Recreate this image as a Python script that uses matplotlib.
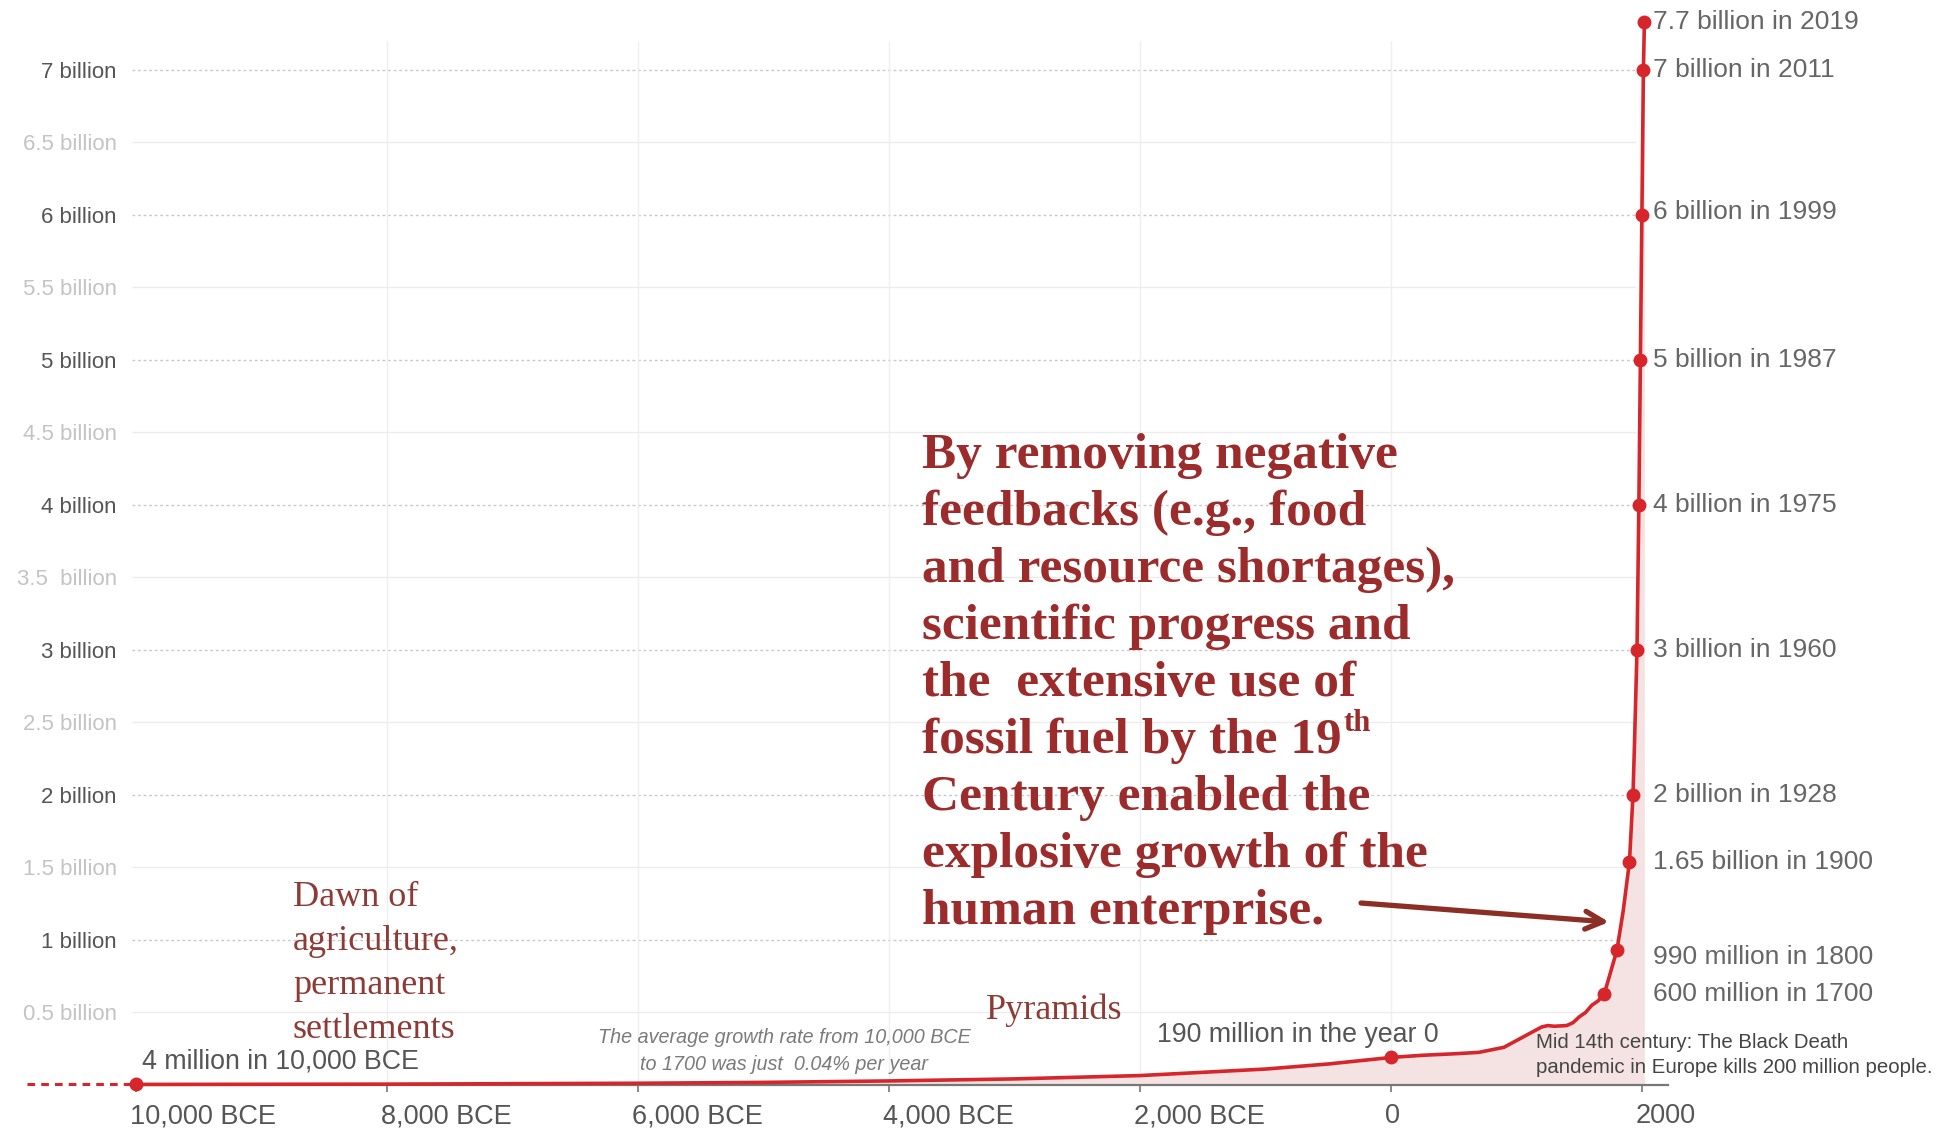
import matplotlib
matplotlib.use("Agg")
import matplotlib.pyplot as plt
from matplotlib import font_manager
from matplotlib.transforms import ScaledTranslation

# ---------------- data ----------------
years = [-10000, -8000, -6000, -5000, -4000, -3000, -2000, -1000, -500, 0, 250, 500, 700,
         900, 1050, 1200, 1250, 1300, 1400, 1450, 1500, 1550, 1600, 1650, 1700, 1750,
         1800, 1850, 1900, 1928, 1940, 1960, 1975, 1987, 1999, 2011, 2019]
population_bn = [0.004, 0.006, 0.012, 0.018, 0.028, 0.042, 0.065, 0.11, 0.145, 0.19, 0.205,
                 0.215, 0.225, 0.26, 0.33, 0.40, 0.41, 0.405, 0.41, 0.43, 0.47, 0.50, 0.55,
                 0.58, 0.63, 0.78, 0.93, 1.2, 1.54, 2.0, 2.35, 3.0, 4.0, 5.0, 6.0, 7.0, 7.33]

milestone_years = [2019, 2011, 1999, 1987, 1975, 1960, 1928, 1900, 1800, 1700]
milestone_pop = [7.33, 7.0, 6.0, 5.0, 4.0, 3.0, 2.0, 1.54, 0.93, 0.63]
milestone_labels = ["7.7 billion in 2019", "7 billion in 2011", "6 billion in 1999",
                    "5 billion in 1987", "4 billion in 1975", "3 billion in 1960",
                    "2 billion in 1928", "1.65 billion in 1900", "990 million in 1800",
                    "600 million in 1700"]

extra_dot_years = [-10000, 0]
extra_dot_pop = [0.004, 0.19]

x_ticks = [-10000, -8000, -6000, -4000, -2000, 0, 2000]
x_tick_labels = ["10,000 BCE", "8,000 BCE", "6,000 BCE", "4,000 BCE", "2,000 BCE", "0", "2000"]
y_ticks = [0.5, 1, 1.5, 2, 2.5, 3, 3.5, 4, 4.5, 5, 5.5, 6, 6.5, 7]
y_tick_labels = ["0.5 billion", "1 billion", "1.5 billion", "2 billion", "2.5 billion",
                 "3 billion", "3.5  billion", "4 billion", "4.5 billion", "5 billion",
                 "5.5 billion", "6 billion", "6.5 billion", "7 billion"]

main_text = ["By removing negative", "feedbacks (e.g., food", "and resource shortages),",
             "scientific progress and", "the  extensive use of", "fossil fuel by the 19",
             "Century enabled the", "explosive growth of the", "human enterprise."]
dawn_text = ["Dawn of", "agriculture,", "permanent", "settlements"]

# ---------------- style ----------------
names = {f.name for f in font_manager.fontManager.ttflist}
SANS = "Liberation Sans" if "Liberation Sans" in names else "DejaVu Sans"
NARROW = "Liberation Sans Narrow" if "Liberation Sans Narrow" in names else SANS
SERIF = "Liberation Serif" if "Liberation Serif" in names else "DejaVu Serif"
plt.rcParams["font.family"] = [SANS, "DejaVu Sans"]

RED = "#d6262c"
DARKRED = "#9c2b2b"
BROWNRED = "#8e3b36"

W, H = 1940, 1128
fig = plt.figure(figsize=(W / 100, H / 100), dpi=100)
fig.patch.set_facecolor("white")

# axes: px 132..1668 horizontally, value 0 at px 1085, top px 15
ax = fig.add_axes([132 / W, (H - 1085) / H, 1536 / W, 1070 / H])
ax.set_xlim(-10032, 2207)
ax.set_ylim(0, 7.379)
ax.set_facecolor("none")
for s in ["top", "right", "left"]:
    ax.spines[s].set_visible(False)
ax.spines["bottom"].set_color("#777777")
ax.spines["bottom"].set_linewidth(1.6)

# grid
for yv in y_ticks:
    if float(yv).is_integer():
        ax.hlines(yv, -10030, 1950, colors="#c9c9c9", linestyles=(0, (2, 2)), lw=1.0, zorder=1)
    else:
        ax.hlines(yv, -10030, 1950, colors="#ececec", lw=1.0, zorder=1)
for xv in x_ticks[1:-1]:
    ax.vlines(xv, 0, 7.2, colors="#efefef", lw=1.0, zorder=1)

# area + line
ax.fill_between(years, population_bn, 0, color="#f5e3e3", zorder=2, lw=0)
ax.plot([-10870, -10000], [0.004, 0.004], color=RED, lw=2.2, ls=(0, (2.5, 2)),
        clip_on=False, zorder=4)
ax.plot(years, population_bn, color=RED, lw=2.6, zorder=5, clip_on=False,
        solid_joinstyle="round")
ax.plot(milestone_years, milestone_pop, "o", color=RED, ms=9, zorder=6, clip_on=False)
ax.plot(extra_dot_years, extra_dot_pop, "o", color=RED, ms=9, zorder=6, clip_on=False)

# ticks
ax.set_xticks(x_ticks)
ax.set_xticklabels(x_tick_labels)
ax.tick_params(axis="x", direction="out", length=5, width=1.2, color="#777777",
               labelsize=19.5, labelcolor="#555555", pad=8)
off = ScaledTranslation(-6 / 100, 0, fig.dpi_scale_trans)
for lab in ax.get_xticklabels():
    lab.set_horizontalalignment("left")
    lab.set_transform(lab.get_transform() + off)

ax.set_yticks(y_ticks)
ax.set_yticklabels(y_tick_labels)
ax.tick_params(axis="y", length=0, labelsize=16, pad=11)
for yv, lab in zip(y_ticks, ax.get_yticklabels()):
    lab.set_color("#555555" if float(yv).is_integer() else "#c4c4c4")

# right-side milestone labels
label_dy = {"6 billion in 1999": 0.02, "990 million in 1800": -0.05}
for yr, v, t in zip(milestone_years, milestone_pop, milestone_labels):
    ax.text(2088, v + label_dy.get(t, 0), t, fontsize=19, color="#666666",
            va="center", ha="left", clip_on=False, zorder=7)

# ---------------- annotations (figure pixels) ----------------
def ftext(px, py, s, **kw):
    return fig.text(px / W, 1 - py / H, s, **kw)

baseline0, step = 468, 57
txts = []
for i, line in enumerate(main_text):
    t = ftext(922, baseline0 + i * step, line, fontsize=37, fontweight="bold",
              family=SERIF, color=DARKRED, va="baseline", ha="left")
    txts.append(t)

fig.canvas.draw()
r = fig.canvas.get_renderer()
bb = txts[5].get_window_extent(renderer=r)
ftext(bb.x1 + 2, baseline0 + 5 * step - 22, "th", fontsize=22, fontweight="bold",
      family=SERIF, color=DARKRED, va="baseline", ha="left")

for i, line in enumerate(dawn_text):
    ftext(293, 906 + i * 44, line, fontsize=26, family=SERIF, color=BROWNRED,
          va="baseline", ha="left")
ftext(986, 1019, "Pyramids", fontsize=26, family=SERIF, color=BROWNRED,
      va="baseline", ha="left")

ftext(142, 1069, "4 million in 10,000 BCE", fontsize=19.3, color="#555555", va="baseline")
ftext(1157, 1042, "190 million in the year 0", fontsize=19.3, color="#555555", va="baseline")
ftext(784, 1043, "The average growth rate from 10,000 BCE", fontsize=14.2, style="italic",
      family=NARROW, color="#7a7a7a", ha="center", va="baseline")
ftext(784, 1070, "to 1700 was just  0.04% per year", fontsize=14.2, style="italic",
      family=NARROW, color="#7a7a7a", ha="center", va="baseline")
ftext(1536, 1048, "Mid 14th century: The Black Death", fontsize=14.7, color="#444444",
      va="baseline")
ftext(1536, 1073, "pandemic in Europe kills 200 million people.", fontsize=14.7,
      color="#444444", va="baseline")

# arrow
ax.annotate("", xy=(1737, 1.124), xytext=(-239, 1.255),
            arrowprops=dict(arrowstyle="->", lw=3.8, color="#8b2e25",
                            mutation_scale=32, shrinkA=0, shrinkB=0), zorder=8)

fig.savefig("out.png", dpi=100, facecolor="white")
